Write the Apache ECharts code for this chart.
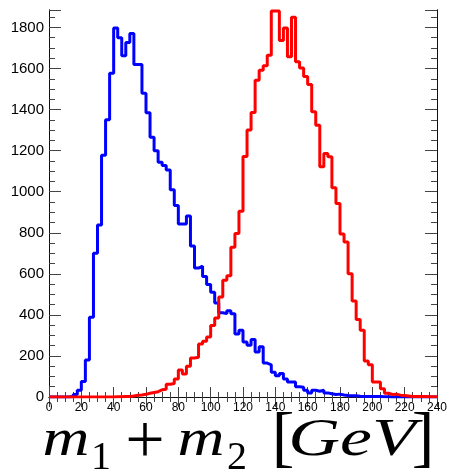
<!DOCTYPE html>
<html lang="en">

<head>
  <meta charset="UTF-8">
  <title>m1 + m2</title>
  <script src="https://cdn.jsdelivr.net/npm/echarts@6/dist/echarts.min.js"></script>
  <style>
    html, body { margin: 0; padding: 0; background: #fff; }
    #main { width: 450px; height: 475px; }
  </style>
</head>

<body>
  <div id="main"></div>
  <script type="text/javascript">
    // bin width in GeV, 96 bins from 0 to 240
    var binWidth = 2.5;

    var blueCounts = [
      0, 0, 0, 0, 0, 2, 12, 33, 75, 180,
      388, 700, 838, 1178, 1350, 1577, 1797, 1750, 1662, 1727,
      1770, 1620, 1620, 1480, 1385, 1265, 1200, 1143, 1127, 1106,
      1010, 933, 843, 843, 882, 736, 628, 637, 587, 548,
      510, 458, 410, 406, 420, 406, 307, 325, 268, 252,
      280, 219, 245, 165, 157, 120, 104, 114, 88, 73,
      73, 50, 47, 33, 20, 33, 28, 33, 20, 16,
      12, 14, 10, 7, 6, 6, 4, 3, 3, 2,
      3, 2, 1, 1, 0, 1, 0, 0, 0, 0,
      0, 0, 0, 0, 0, 0
    ];

    var redCounts = [
      0, 0, 0, 0, 0, 0, 0, 0, 0, 0,
      0, 0, 0, 0, 0, 0, 1, 1, 2, 3,
      5, 8, 10, 13, 18, 22, 26, 35, 38, 62,
      66, 88, 132, 112, 150, 190, 194, 258, 272, 292,
      348, 385, 487, 569, 590, 730, 796, 905, 1172, 1300,
      1386, 1543, 1592, 1613, 1665, 1880, 1880, 1737, 1797, 1657,
      1850, 1633, 1602, 1561, 1522, 1389, 1324, 1121, 1186, 1170,
      1019, 942, 794, 755, 600, 468, 378, 325, 175, 157,
      73, 73, 40, 18, 12, 14, 9, 7, 5, 3,
      3, 2, 2, 1, 1, 1
    ];

    var xMin = 0, xMax = 240, xStep = 20;
    var yMin = 0, yMax = 1885, yStep = 200;

    // histogram -> step line points (left bin edges + closing edge)
    function toSteps(counts) {
      var pts = [];
      for (var i = 0; i < counts.length; i++) {
        pts.push([i * binWidth, counts[i]]);
      }
      pts.push([counts.length * binWidth, counts[counts.length - 1]]);
      return pts;
    }

    var myChart = echarts.init(document.getElementById('main'));

    var frame = { show: true, lineStyle: { color: '#111', width: 1 } };
    var tickCol = '#444';

    function xAx(pos, labels) {
      return {
        type: 'value', position: pos, min: xMin, max: xMax, interval: xStep,
        axisLine: frame,
        axisTick: { show: true, inside: true, length: 10, lineStyle: { color: tickCol } },
        minorTick: { show: true, splitNumber: 4, length: 5, lineStyle: { color: tickCol } },
        axisLabel: labels ? { show: true, fontSize: 12, color: '#000', margin: 5, fontFamily: 'Liberation Sans' } : { show: false },
        splitLine: { show: false }
      };
    }

    function yAx(pos, step, len, labels) {
      return {
        type: 'value', position: pos, min: yMin, max: yMax, interval: step,
        axisLine: frame,
        axisTick: { show: true, inside: true, length: len, lineStyle: { color: tickCol } },
        axisLabel: labels ? {
          show: true, fontSize: 15, color: '#000', margin: 5, fontFamily: 'Liberation Sans',
          formatter: function (v) { return v % yStep === 0 ? String(v) : ''; }
        } : { show: false },
        splitLine: { show: false }
      };
    }

    function glyph(text, x, y, size, italic, sx) {
      return {
        type: 'text', x: x, y: y, scaleX: sx || 1, silent: true,
        style: {
          text: text, x: 0, y: 0,
          font: (italic ? 'italic ' : '') + size + 'px "Liberation Serif"',
          textAlign: 'center', textVerticalAlign: 'middle', fill: '#000'
        }
      };
    }

    var option = {
      animation: false,
      backgroundColor: '#fff',
      grid: { left: 49, top: 10, width: 393, height: 387, containLabel: false },
      xAxis: [xAx('bottom', true), xAx('top', false)],
      yAxis: [
        yAx('left', yStep, 12, true),
        yAx('left', 50, 6, false),
        yAx('right', yStep, 12, false),
        yAx('right', 50, 6, false)
      ],
      series: [{
        type: 'line', step: 'end', showSymbol: false, symbol: 'none', clip: true,
        xAxisIndex: 0, yAxisIndex: 0,
        lineStyle: { color: '#0000ff', width: 3 },
        data: toSteps(blueCounts)
      }, {
        type: 'line', step: 'end', showSymbol: false, symbol: 'none', clip: true,
        xAxisIndex: 0, yAxisIndex: 0,
        lineStyle: { color: '#ff0000', width: 3 },
        data: toSteps(redCounts)
      }],
      graphic: [
        glyph('m', 66, 441, 52, true, 1.25),
        glyph('1', 101, 458, 40, false),
        glyph('+', 145, 445, 70, false),
        glyph('m', 201, 441, 52, true, 1.25),
        glyph('2', 237, 458, 40, false),
        glyph('[', 283, 441, 68, false),
        glyph('GeV', 352, 441, 52, true, 1.38),
        glyph(']', 423, 441, 68, false)
      ]
    };

    myChart.setOption(option);
  </script>
</body>

</html>
